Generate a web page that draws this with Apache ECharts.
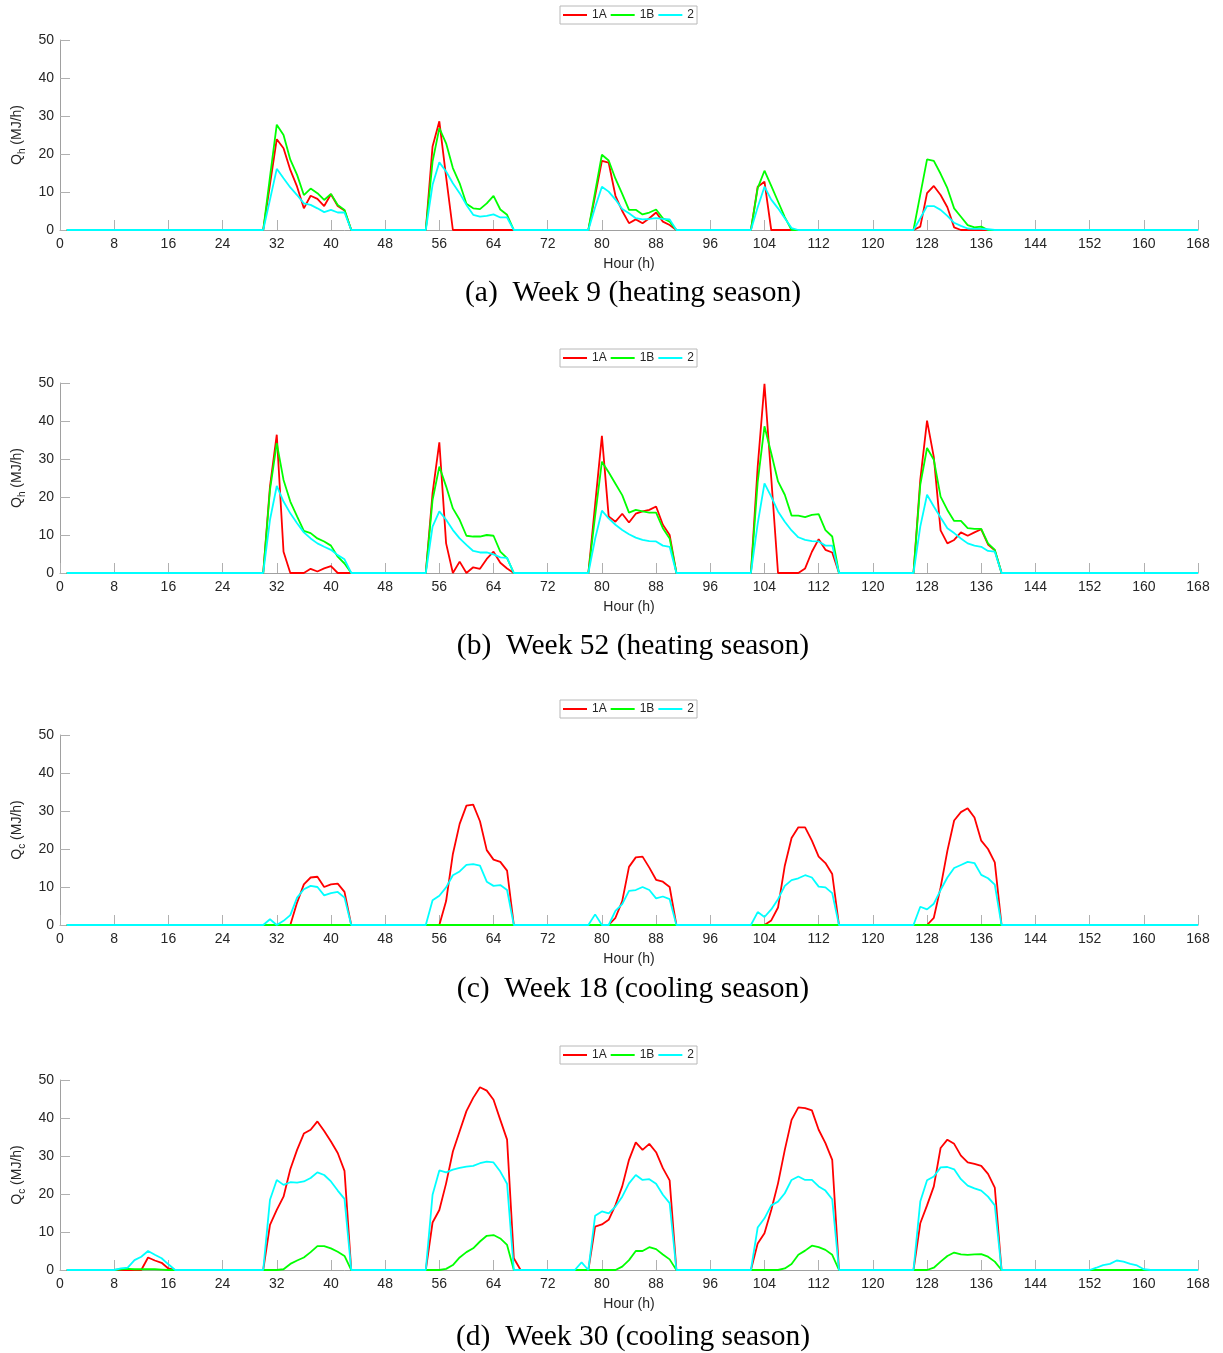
<!DOCTYPE html>
<html>
<head>
<meta charset="utf-8">
<script src="https://cdn.jsdelivr.net/npm/echarts@6/dist/echarts.min.js"></script>
<style>
html,body{margin:0;padding:0;background:#fff;}
#chart{width:1223px;height:1353px;}
</style>
</head>
<body>
<div id="chart"></div>
<script>
// Hours 1..168 ; series given as segments [startHour, [consecutive hourly values]], zero elsewhere
const seriesNames = ['1A', '1B', '2'];
const seriesColors = ['#ff0000', '#00ff00', '#00ffff'];
const xTicks = [0, 8, 16, 24, 32, 40, 48, 56, 64, 72, 80, 88, 96, 104, 112, 120, 128, 136, 144, 152, 160, 168];
const yTicks = [0, 10, 20, 30, 40, 50];
const captions = ['(a)  Week 9 (heating season)', '(b)  Week 52 (heating season)', '(c)  Week 18 (cooling season)', '(d)  Week 30 (cooling season)'];
const yNames = ['h', 'h', 'c', 'c'];

// Panel (a) Week 9
const a_1A = [[31, [12, 23.9, 21.5, 15.8, 11.4, 5.7, 9.0, 8.2, 6.3, 9.4, 6.3, 5.1]],
  [55, [22.0, 28.6, 14, 0]],
  [79, [9, 18.2, 17.7, 9, 5, 1.8, 2.8, 1.8, 3.1, 4.6, 2.2, 1.3]],
  [103, [11.4, 12.7]],
  [127, [0.9, 9.7, 11.6, 9.2, 6.0, 0.7]]];
const a_1B = [[31, [14, 27.7, 25.0, 18.5, 14.5, 9.2, 10.9, 9.7, 7.9, 9.5, 6.6, 5.3]],
  [55, [18, 26.8, 22.8, 16.3, 12.3, 6.9, 5.7, 5.5, 7.0, 9.0, 5.4, 4.0]],
  [79, [10, 19.8, 18.3, 13.5, 9.5, 5.3, 5.3, 4.1, 4.6, 5.4, 3.1, 2.2]],
  [103, [11.0, 15.6, 11.6, 7.5, 3.4]],
  [127, [9.3, 18.6, 18.2, 14.8, 11.0, 5.7, 3.5, 1.3, 0.7, 0.9]]];
const a_2 = [[31, [8, 16.1, 13.6, 11.2, 9.2, 7.0, 6.6, 5.7, 4.7, 5.3, 4.6, 4.6]],
  [55, [11.9, 17.8, 15.4, 12.3, 9.7, 6.6, 4.0, 3.5, 3.7, 4.1, 3.3, 3.3]],
  [79, [6, 11.4, 10.1, 8, 5.5, 4.4, 3.1, 2.8, 2.9, 3.1, 2.9, 2.8]],
  [103, [6, 11.4, 8.0, 5.7, 3.1, 0.5]],
  [127, [3.1, 6.3, 6.3, 5.3, 3.7, 1.9, 1.1, 0.4, 0.3, 0.3, 0.2]]];

// Panel (b) Week 52
const b_1A = [[31, [22.8, 36.4, 5.6, 0, 0, 0, 1.1, 0.4, 1.2, 1.8]],
  [55, [21.0, 34.4, 7.8, 0, 3.0, 0, 1.5, 1.1, 3.7, 5.6, 2.7, 1.2]],
  [79, [18, 36.1, 14.9, 13.5, 15.6, 13.3, 15.6, 16.2, 16.6, 17.5, 12.7, 10.0]],
  [103, [28, 49.8, 25, 0, 0, 0, 0, 1.2, 5.6, 8.9, 6.1, 5.4]],
  [127, [24.5, 40.1, 30.5, 11.2, 7.8, 8.7, 10.7, 9.8, 10.7, 11.5, 7.5, 6.0]]];
const b_1B = [[31, [21.9, 34.2, 24.5, 18.8, 14.9, 11.1, 10.5, 9.1, 8.3, 7.2, 4.3, 2.5]],
  [55, [19.2, 28.0, 22.8, 17.0, 14.0, 9.8, 9.6, 9.6, 10.0, 9.8, 5.6, 3.9]],
  [79, [15, 29.3, 26.5, 23.5, 20.5, 15.9, 16.6, 16.2, 15.9, 15.9, 11.8, 9.1]],
  [103, [24, 38.6, 31.5, 24.1, 20.6, 15.1, 15.1, 14.7, 15.3, 15.5, 11.3, 9.6]],
  [127, [23.2, 32.9, 29.8, 20.1, 16.6, 13.7, 13.7, 11.8, 11.6, 11.6, 7.8, 6.1]]];
const b_2 = [[31, [14.0, 22.9, 18.8, 15.7, 13.1, 10.7, 9.1, 7.8, 6.9, 6.1, 4.7, 3.6]],
  [55, [12.2, 16.2, 14.0, 11.3, 9.1, 7.4, 5.8, 5.4, 5.4, 4.9, 4.1, 4.0]],
  [79, [9, 16.4, 14.4, 12.7, 11.3, 10.2, 9.3, 8.7, 8.4, 8.3, 7.2, 6.9]],
  [103, [13, 23.6, 20.1, 16.2, 13.5, 11.2, 9.4, 8.7, 8.4, 8.3, 7.2, 7.2]],
  [127, [12.2, 20.6, 17.5, 14.6, 11.8, 10.5, 9.1, 7.8, 7.2, 6.9, 5.8, 5.6]]];

// Panel (c) Week 18
const c_1A = [[35, [5.9, 10.7, 12.5, 12.7, 10.0, 10.7, 10.9, 8.7]],
  [57, [6.3, 18.7, 26.6, 31.4, 31.7, 27.3, 19.7, 17.2, 16.6, 14.3]],
  [82, [1.9, 6.3, 15.3, 17.8, 18.0, 15.1, 11.9, 11.4, 10.0]],
  [105, [1.2, 4.6, 15.6, 22.9, 25.7, 25.7, 22.2, 18.0, 16.3, 13.4]],
  [129, [1.9, 9.9, 19.5, 27.5, 29.7, 30.7, 28.3, 22.2, 20.0, 16.5]]];
const c_1B = [];
const c_2 = [[31, [1.5, 0, 1.1, 2.6, 7.2, 9.4, 10.3, 10.0, 7.8, 8.4, 8.7, 7.2]],
  [55, [6.5, 7.7, 9.9, 13.1, 14.1, 15.8, 16.0, 15.6, 11.4, 10.3, 10.5, 9.2]],
  [79, [2.8, 0, 0, 3.7, 5.5, 9.0, 9.2, 10.0, 9.2, 7.0, 7.5, 6.8]],
  [103, [3.4, 2.1, 4.1, 6.8, 10.3, 11.8, 12.3, 13.1, 12.5, 10.1, 9.9, 8.4]],
  [127, [4.8, 4.1, 5.6, 9.2, 12.5, 15.0, 15.8, 16.6, 16.3, 13.2, 12.3, 10.6]]];

// Panel (d) Week 30
const d_1A = [[13, [3.3, 2.5, 1.9, 0.4]],
  [31, [11.9, 15.8, 19.3, 26.5, 31.6, 35.9, 36.9, 39.1, 36.6, 33.8, 30.8, 26.1]],
  [55, [12.5, 15.8, 22.8, 31.2, 36.5, 41.8, 45.3, 48.1, 47.2, 44.8, 39.5, 34.3, 3.1]],
  [79, [11.4, 12.0, 13.2, 17.1, 22.0, 29.0, 33.6, 31.6, 33.2, 31.0, 26.8, 23.6]],
  [103, [7.0, 9.7, 15.8, 22.8, 31.6, 39.5, 42.8, 42.6, 42.0, 36.9, 33.4, 29.0]],
  [127, [12.3, 17.0, 22.0, 32.1, 34.3, 33.2, 30.1, 28.3, 27.9, 27.4, 25.3, 21.7]]];
const d_1B = [[9, [0.2, 0.3, 0.2, 0.2, 0.2, 0.2, 0.1]],
  [33, [0.2, 1.6, 2.5, 3.3, 4.7, 6.3, 6.3, 5.7, 4.8, 3.7]],
  [57, [0.3, 1.3, 3.3, 4.7, 5.7, 7.5, 9.0, 9.2, 8.3, 6.6]],
  [83, [0.9, 2.6, 5.0, 5.0, 6.0, 5.5, 4.1, 2.8]],
  [107, [0.4, 1.6, 4.0, 5.1, 6.4, 6.0, 5.3, 4.0]],
  [129, [0.6, 2.2, 3.7, 4.6, 4.1, 4.0, 4.1, 4.2, 3.5, 2.2]]];
const d_2 = [[9, [0.4, 0.6, 2.6, 3.5, 5.0, 4.0, 3.1, 1.5]],
  [31, [18.5, 23.7, 22.4, 23.1, 23.0, 23.3, 24.2, 25.7, 25.0, 23.3, 20.9, 18.7]],
  [55, [19.8, 26.2, 25.7, 26.4, 26.9, 27.2, 27.4, 28.1, 28.5, 28.3, 25.9, 22.7]],
  [77, [2.0, 0, 14.3, 15.4, 14.9, 16.7, 19.3, 22.8, 25.0, 23.7, 23.9, 22.7, 19.8, 17.6]],
  [103, [11.2, 13.6, 17.0, 18.0, 20.2, 23.7, 24.6, 23.7, 23.7, 22.0, 20.9, 18.6]],
  [127, [18.0, 23.6, 24.6, 27.0, 27.1, 26.5, 23.9, 22.2, 21.5, 20.9, 19.3, 17.0]],
  [153, [0.6, 1.3, 1.6, 2.5, 2.2, 1.6, 1.2, 0.2]]];

const panels = [[a_1A, a_1B, a_2], [b_1A, b_1B, b_2], [c_1A, c_1B, c_2], [d_1A, d_1B, d_2]];

function build(segs) {
  const arr = [];
  for (let h = 1; h <= 168; h++) arr.push([h, 0]);
  segs.forEach(([s, vals]) => vals.forEach((v, i) => { arr[s + i - 1][1] = v; }));
  return arr;
}

// layout
const gridTops = [40, 383, 735, 1080];
const gridH = 190;
const legendTops = [6, 349, 700, 1046];
const captionY = [293, 646, 989, 1337];
const FONT = 'Liberation Sans, Arial, Helvetica, sans-serif';

const grids = [], xAxes = [], yAxes = [], series = [], legends = [], graphics = [];
panels.forEach((p, i) => {
  grids.push({ left: 60, width: 1138, top: gridTops[i], height: gridH });
  xAxes.push({
    type: 'value', gridIndex: i, min: 0, max: 168, interval: 8,
    axisLine: { show: true, lineStyle: { color: '#a0a0a0', width: 1 } },
    axisTick: { show: true, inside: true, length: 10, lineStyle: { color: '#b0b0b0' } },
    axisLabel: { color: '#262626', fontSize: 14, margin: 7, fontFamily: FONT },
    splitLine: { show: false },
    name: 'Hour (h)', nameLocation: 'middle', nameGap: 27,
    nameTextStyle: { color: '#262626', fontSize: 14, fontFamily: FONT }
  });
  yAxes.push({
    type: 'value', gridIndex: i, min: 0, max: 50, interval: 10,
    axisLine: { show: true, lineStyle: { color: '#a0a0a0', width: 1 } },
    axisTick: { show: true, inside: true, length: 10, lineStyle: { color: '#b0b0b0' } },
    axisLabel: { color: '#262626', fontSize: 14, margin: 6, fontFamily: FONT },
    splitLine: { show: false },
    name: '{q|Q}{s|' + yNames[i] + '}{q| (MJ/h)}', nameLocation: 'middle', nameGap: 31, nameRotate: 90,
    nameTextStyle: {
      color: '#262626', fontFamily: FONT,
      rich: {
        q: { fontSize: 14, lineHeight: 20, color: '#262626', fontFamily: FONT },
        s: { fontSize: 10, lineHeight: 20, verticalAlign: 'bottom', color: '#262626', fontFamily: FONT }
      }
    }
  });
  p.forEach((segs, k) => {
    series.push({
      name: seriesNames[k], type: 'line', xAxisIndex: i, yAxisIndex: i,
      data: build(segs), symbol: 'none', showSymbol: false,
      lineStyle: { color: seriesColors[k], width: 1.8 }, itemStyle: { color: seriesColors[k] },
      z: 2 + k, animation: false
    });
  });
  legends.push({
    left: 560, top: legendTops[i], data: seriesNames, orient: 'horizontal',
    icon: 'rect', itemWidth: 24, itemHeight: 2, itemGap: 4,
    textStyle: { fontSize: 12, color: '#262626', fontFamily: FONT },
    borderColor: '#b8b8b8', borderWidth: 1, padding: [3, 3], backgroundColor: '#fff',
    selectedMode: false
  });
  graphics.push({
    type: 'text', x: 633, y: captionY[i],
    style: { text: captions[i], font: '29.5px "Liberation Serif", "Times New Roman", serif', fill: '#000', textAlign: 'center', textVerticalAlign: 'middle' }
  });
});

const chart = echarts.init(document.getElementById('chart'), null, { renderer: 'canvas' });
chart.setOption({
  animation: false,
  backgroundColor: '#fff',
  grid: grids, xAxis: xAxes, yAxis: yAxes, series: series, legend: legends, graphic: graphics
});
</script>
</body>
</html>
